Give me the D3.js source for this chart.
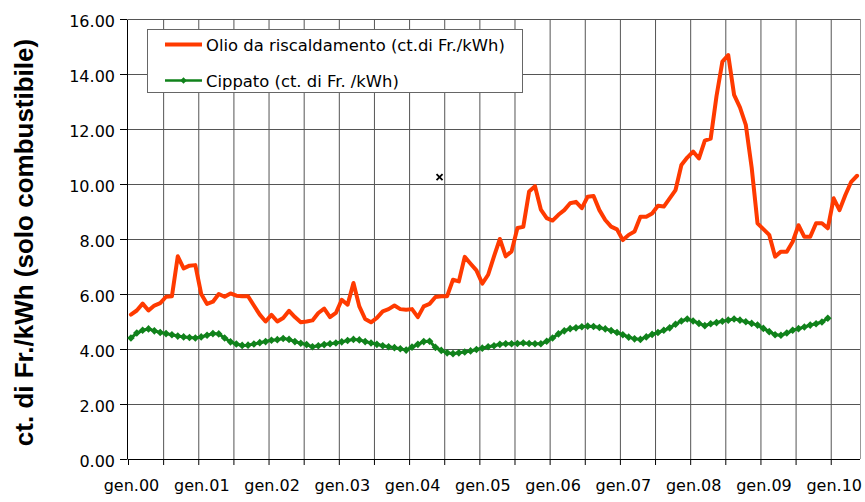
<!DOCTYPE html>
<html>
<head>
<meta charset="utf-8">
<style>
    html, body {
        margin: 0;
        padding: 0;
        background-color: #fff;
    }
    svg {
        display: block;
    }
    .axis text {
        font-family: 'DejaVu Sans', Verdana, sans-serif;
        font-size: 16px;
        fill: #000;
    }
    .axis path, .axis line {
        stroke: #000;
    }
    .grid line {
        stroke: #555;
        stroke-width: 1px;
    }
    .legend text {
        font-family: 'DejaVu Sans', Verdana, sans-serif;
        font-size: 16.4px;
        fill: #000;
    }
    .ytitle {
        font-family: 'Liberation Sans', Arial, sans-serif;
        font-weight: bold;
        font-size: 26px;
        fill: #000;
    }
</style>
</head>
<body>

<svg id="chart" width="865" height="502"></svg>

<script src="https://d3js.org/d3.v7.min.js"></script>
<script>
    // monthly categories, gen.00 .. mag.10
    var monthNames = ["gen", "feb", "mar", "apr", "mag", "giu", "lug", "ago", "set", "ott", "nov", "dic"];
    var years = ["00", "01", "02", "03", "04", "05", "06", "07", "08", "09", "10"];
    var categoryCount = 125;

    // Olio da riscaldamento (ct. di Fr./kWh), one value per month
    var oilValues = [
        5.25, 5.40, 5.65, 5.40, 5.58, 5.67, 5.90, 5.92, 7.37, 6.93, 7.03, 7.05,
        6.00, 5.64, 5.72, 6.00, 5.90, 6.02, 5.94, 5.92, 5.92, 5.58, 5.25, 5.00,
        5.24, 5.00, 5.13, 5.39, 5.16, 4.97, 5.00, 5.04, 5.31, 5.47, 5.16, 5.31,
        5.79, 5.61, 6.40, 5.55, 5.09, 4.97, 5.13, 5.37, 5.45, 5.58, 5.45, 5.43,
        5.45, 5.16, 5.55, 5.64, 5.89, 5.92, 5.92, 6.52, 6.46, 7.35, 7.10, 6.86,
        6.38, 6.70, 7.37, 8.00, 7.37, 7.55, 8.40, 8.44, 9.73, 9.92, 9.07, 8.76,
        8.67, 8.88, 9.05, 9.30, 9.35, 9.12, 9.54, 9.56, 9.05, 8.69, 8.45, 8.35,
        7.96, 8.15, 8.27, 8.81, 8.81, 8.93, 9.21, 9.18, 9.48, 9.78, 10.69, 10.96,
        11.18, 10.93, 11.58, 11.65, 13.20, 14.45, 14.69, 13.24, 12.79, 12.15, 10.60, 8.57,
        8.36, 8.15, 7.36, 7.54, 7.54, 7.90, 8.50, 8.08, 8.08, 8.57, 8.57, 8.39,
        9.48, 9.05, 9.60, 10.08, 10.30
    ];

    // Cippato (ct. di Fr./kWh), one value per month
    var chipValues = [
        4.40, 4.58, 4.68, 4.73, 4.66, 4.60, 4.56, 4.52, 4.47, 4.44, 4.42, 4.40,
        4.44, 4.50, 4.56, 4.55, 4.40, 4.26, 4.18, 4.13, 4.14, 4.18, 4.23, 4.27,
        4.32, 4.34, 4.38, 4.35, 4.27, 4.21, 4.16, 4.08, 4.12, 4.16, 4.19, 4.22,
        4.26, 4.31, 4.35, 4.33, 4.27, 4.22, 4.17, 4.12, 4.08, 4.05, 4.01, 3.96,
        4.07, 4.17, 4.27, 4.28, 4.06, 3.95, 3.86, 3.83, 3.86, 3.89, 3.93, 3.98,
        4.03, 4.08, 4.12, 4.17, 4.19, 4.19, 4.20, 4.22, 4.20, 4.19, 4.19, 4.28,
        4.40, 4.55, 4.66, 4.74, 4.77, 4.81, 4.83, 4.82, 4.78, 4.73, 4.67, 4.60,
        4.52, 4.43, 4.37, 4.35, 4.44, 4.53, 4.60, 4.68, 4.77, 4.90, 5.02, 5.09,
        5.02, 4.93, 4.85, 4.92, 4.96, 5.01, 5.05, 5.09, 5.05, 4.99, 4.93, 4.87,
        4.75, 4.63, 4.52, 4.50, 4.58, 4.68, 4.74, 4.80, 4.87, 4.92, 4.98, 5.12
    ];

    var yTicks = [0, 2, 4, 6, 8, 10, 12, 14, 16];
    var xTicks = d3.range(0, 121, 6);

    // stray "x" that sits on the original picture
    var strayMarks = [{ m: 53.2, v: 10.25 }];

    var legendItems = [
        { label: "Olio da riscaldamento (ct.di Fr./kWh)", color: "#ff3a00", marker: false },
        { label: "Cippato (ct. di Fr. /kWh)", color: "#10821b", marker: true }
    ];

    var categories = [];
    for (var i = 0; i < categoryCount; i++) {
        categories.push(monthNames[i % 12] + "." + years[Math.floor(i / 12)]);
    }

    var svg = d3.select("#chart");

    var x = d3.scaleLinear().domain([0, categoryCount]).range([128, 860]);
    var y = d3.scaleLinear().domain([0, 16]).range([459, 19]);

    // grid
    var grid = svg.append("g").attr("class", "grid");
    grid.selectAll(".h")
        .data(yTicks.filter(function(d) { return d > 0; }))
        .enter().append("line")
        .attr("x1", x(0)).attr("x2", x(categoryCount))
        .attr("y1", function(d) { return y(d) + 0.5; })
        .attr("y2", function(d) { return y(d) + 0.5; });
    grid.selectAll(".v")
        .data(xTicks.filter(function(d) { return d > 0; }).concat([categoryCount]))
        .enter().append("line")
        .attr("x1", function(d) { return x(d) + 0.5; })
        .attr("x2", function(d) { return x(d) + 0.5; })
        .attr("y1", y(16)).attr("y2", y(0))
        .style("stroke", function(d) { return d === categoryCount ? "#999" : null; });

    // axes
    svg.append("g")
        .attr("class", "axis")
        .attr("transform", "translate(127,0)")
        .call(d3.axisLeft(y)
            .tickValues(yTicks)
            .tickFormat(d3.format(".2f"))
            .tickSize(7)
            .tickSizeOuter(0)
            .tickPadding(5))
        .selectAll("text")
        .attr("dy", "0.45em");

    var xAxis = svg.append("g")
        .attr("class", "axis")
        .attr("transform", "translate(0,459)")
        .call(d3.axisBottom(x)
            .tickValues(xTicks)
            .tickFormat(function(d) { return d % 12 === 0 ? categories[d] : ""; })
            .tickSize(6)
            .tickSizeOuter(0)
            .tickPadding(26));
    xAxis.selectAll("text").attr("dx", 3).attr("dy", 0);
    xAxis.select(".domain").attr("d", "M" + x(0) + ",0.5H" + x(categoryCount));

    // series
    var line = d3.line()
        .x(function(d, i) { return x(i + 0.5); })
        .y(function(d) { return y(d); });

    svg.append("path")
        .datum(chipValues)
        .attr("fill", "none")
        .attr("stroke", legendItems[1].color)
        .attr("stroke-width", 3)
        .attr("stroke-linejoin", "round")
        .attr("d", line);

    var diamond = "M0,-3.8L3.8,0L0,3.8L-3.8,0Z";
    svg.append("g")
        .selectAll("path")
        .data(chipValues)
        .enter().append("path")
        .attr("d", diamond)
        .attr("fill", legendItems[1].color)
        .attr("transform", function(d, i) { return "translate(" + x(i + 0.5) + "," + y(d) + ")"; });

    svg.append("path")
        .datum(oilValues)
        .attr("fill", "none")
        .attr("stroke", legendItems[0].color)
        .attr("stroke-width", 4)
        .attr("stroke-linejoin", "round")
        .attr("stroke-linecap", "round")
        .attr("d", line);

    svg.selectAll(".stray")
        .data(strayMarks)
        .enter().append("path")
        .attr("class", "stray")
        .attr("d", "M-3,-3L3,3M-3,3L3,-3")
        .attr("stroke", "#000")
        .attr("stroke-width", 1.8)
        .attr("transform", function(d) { return "translate(" + x(d.m) + "," + y(d.v) + ")"; });

    // legend
    var legend = svg.append("g").attr("class", "legend");
    legend.append("rect")
        .attr("x", 147.5).attr("y", 29.5)
        .attr("width", 375).attr("height", 63)
        .attr("fill", "#fff")
        .attr("stroke", "#666");

    var item = legend.selectAll(".item")
        .data(legendItems)
        .enter().append("g")
        .attr("transform", function(d, i) { return "translate(0," + (44.5 + i * 36) + ")"; });
    item.append("line")
        .attr("x1", 165).attr("x2", 202)
        .attr("stroke", function(d) { return d.color; })
        .attr("stroke-width", function(d) { return d.marker ? 2.5 : 4; });
    item.filter(function(d) { return d.marker; })
        .append("path")
        .attr("d", "M0,-3.2L3.2,0L0,3.2L-3.2,0Z")
        .attr("fill", function(d) { return d.color; })
        .attr("transform", "translate(183.5,0)");
    item.append("text")
        .attr("x", 206)
        .attr("y", 6.5)
        .text(function(d) { return d.label; });

    // y title
    svg.append("text")
        .attr("class", "ytitle")
        .attr("transform", "translate(33,242.5) rotate(-90)")
        .attr("text-anchor", "middle")
        .text("ct. di Fr./kWh (solo combustibile)");
</script>
</body>
</html>
